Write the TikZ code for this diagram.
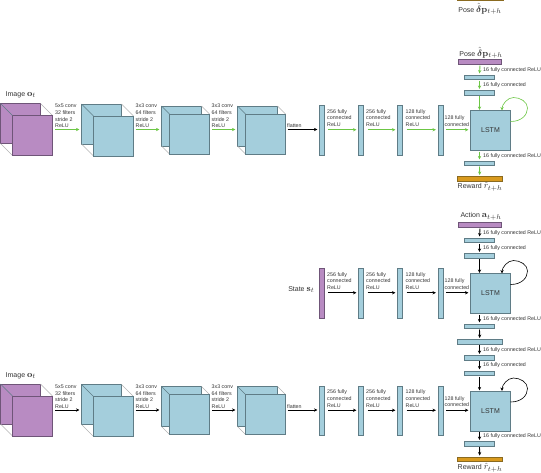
\documentclass[tikz,border=0pt]{standalone}
\usepackage{amsmath}
\usepackage[no-math]{fontspec}
\setmainfont{Liberation Sans}
\usetikzlibrary{arrows.meta}
\definecolor{pur}{HTML}{B88BC2}
\definecolor{blu}{HTML}{A4CEDC}
\definecolor{org}{HTML}{D99A1E}
\definecolor{grn}{HTML}{6CC644}
\definecolor{edg}{HTML}{5F7C86}
\definecolor{edp}{HTML}{6F5578}
\definecolor{edo}{HTML}{8A6A20}
\definecolor{txt}{HTML}{333333}
\newcommand\mth[1]{{\fontsize{9.5}{10}\selectfont$#1$}}
\tikzset{
  layer/.style={draw=edg,fill=blu,line width=0.7pt,inner sep=0pt,outer sep=0pt},
  inlayer/.style={draw=edp,fill=pur,line width=0.7pt,inner sep=0pt,outer sep=0pt},
  outlayer/.style={draw=edo,fill=org,line width=0.7pt,inner sep=0pt,outer sep=0pt},
  small/.style={font=\fontsize{5.3}{6.6}\selectfont,text=txt,inner sep=0pt,anchor=west,align=left},
  big/.style={font=\fontsize{7}{9}\selectfont,text=txt,inner sep=0pt},
  arr/.style={-{Stealth[length=3.5pt,width=3.2pt]},line width=0.9pt},
  harr/.style={arr,shorten >=2pt},
  varr/.style={arr,shorten >=0.5pt},
  edgeline/.style={draw=black!30,line width=0.4pt},
  depth/.style={draw=edg,line width=0.4pt},
}
% name, x0, y0, x1, y1, style
\newcommand\bx[6]{\node[#6,minimum width={(#4-(#2))*1pt},minimum height={(#5-(#3))*1pt}] (#1) at ({(#2+#4)/2},{(#3+#5)/2}) {};}
% prefix, back x0,y0, front x0,y0, style
\newcommand\cube[6]{%
  \bx{#1b}{#2}{#3}{#2+40}{#3+40}{#6}
  \draw[edgeline] (#1b.north east) -- ++({#4-#2},{#5-#3});
  \draw[edgeline] (#1b.south west) -- ++({#4-#2},{#5-#3});
  \bx{#1f}{#4}{#5}{#4+40}{#5+40}{#6}
  \draw[depth] (#1b.north west) -- (#1f.north west);
}
% the convolutional branch: prefix, arrow colour
\newcommand\convs[2]{%
  \cube{#1c1}{0.5}{103.5}{12.5}{115.5}{inlayer}
  \cube{#1c2}{81.5}{104}{93.5}{116}{layer}
  \cube{#1c3}{161.5}{106}{169.5}{114}{layer}
  \cube{#1c4}{237.5}{106}{245.5}{114}{layer}
  \node[big,anchor=west] (#1img) at (5.5,95) {Image \mth{\mathbf{o}_t}};
  \node[small] (#1t1) at (55,116) {5x5 conv\\32 filters\\stride 2\\ReLU};
  \node[small] (#1t2) at (135.5,116) {3x3 conv\\64 filters\\stride 2\\ReLU};
  \node[small] (#1t3) at (211.5,116) {3x3 conv\\64 filters\\stride 2\\ReLU};
  \node[small] (#1t4) at (287,126) {flatten};
  \coordinate (#1s1) at ([yshift=-13.5pt]#1t1.west);
  \coordinate (#1s2) at ([yshift=-13.5pt]#1t2.west);
  \coordinate (#1s3) at ([xshift=0.5pt,yshift=-13.5pt]#1t3.west);
  \draw[harr,#2] (#1s1) -- (#1c2b.west |- #1s1);
  \draw[harr,#2] (#1s2) -- (#1c3b.west |- #1s2);
  \draw[harr,#2] (#1s3) -- (#1c4b.west |- #1s3);
}
% the fully connected branch: prefix, first-bar style, arrow colour
\newcommand\fcs[3]{%
  \bx{#1b1}{319.5}{105.5}{324}{155}{#2}
  \bx{#1b2}{358.5}{105.5}{363.5}{155}{layer}
  \bx{#1b3}{397.5}{105.5}{402.5}{155}{layer}
  \bx{#1b4}{438}{105.5}{443}{155}{layer}
  \bx{#1L}{470.5}{110.5}{510.5}{150.5}{layer}
  \node[font=\fontsize{7}{8}\selectfont,text=txt] at (#1L) {LSTM};
  \node[small] (#1u1) at (327,118) {256 fully\\connected\\ReLU};
  \node[small] (#1u2) at (366,118) {256 fully\\connected\\ReLU};
  \node[small] (#1u3) at (405.5,118) {128 fully\\connected\\ReLU};
  \node[small] (#1u4) at (444.5,121) {128 fully\\connected};
  \coordinate (#1a1) at ([xshift=4pt,yshift=0.5pt]#1b1.east);
  \coordinate (#1a2) at ([xshift=4pt,yshift=0.5pt]#1b2.east);
  \coordinate (#1a3) at ([xshift=4pt,yshift=0.5pt]#1b3.east);
  \coordinate (#1a4) at ([xshift=3pt,yshift=0.5pt]#1b4.east);
  \draw[harr,#3] (#1a1) -- (#1b2.west |- #1a1);
  \draw[harr,#3] (#1a2) -- (#1b3.west |- #1a2);
  \draw[harr,#3] (#1a3) -- (#1b4.west |- #1a3);
  \draw[harr,#3] (#1a4) -- (#1L.west |- #1a4);
  \draw[arr,#3,line width=0.6pt] ([yshift=9pt]#1L.east) .. controls +(11,0) and +(0,7) .. ++(17,-13.5) .. controls +(0,-6) and +(7,0) .. ++(-14,-10.5) .. controls +(-6,0) and +(0,-6) .. ([xshift=11.5pt]#1L.north);
}
% input bar + two fc bars above the LSTM: prefix, input text, arrow colour
\newcommand\head[3]{%
  \bx{#1p}{458.5}{59.5}{501.5}{64.5}{inlayer}
  \node[big] (#1pl) at (481,53) {#2};
  \bx{#1h1}{464.5}{75}{494.5}{79.5}{layer}
  \bx{#1h2}{464.5}{90.5}{494.5}{95}{layer}
  \node[small] (#1ht1) at (483,70) {16 fully connected ReLU};
  \node[small] (#1ht2) at (483,85) {16 fully connected};
  \draw[varr,#3] ([yshift=-1pt]#1p.south) -- ([yshift=1pt]#1h1.north);
  \draw[varr,#3] ([yshift=-1pt]#1h1.south) -- ([yshift=1pt]#1h2.north);
  \draw[varr,#3] ([yshift=-1pt]#1h2.south) -- (#1L.north -| #1h2.south);
}
\begin{document}
\begin{tikzpicture}[x=1pt,y=-1pt]
\useasboundingbox (0,0) rectangle (541,472);
% ---- top panel
\bx{topr}{457.5}{-3}{503}{0.8}{outlayer}
\node[big] (topl) at (480,9) {Pose \mth{\hat{\boldsymbol{\delta}}\mathbf{p}_{t+h}}};
\convs{A}{grn}
\fcs{A}{layer}{grn}
\coordinate (As4) at ([xshift=0.5pt,yshift=-3.5pt]At4.west);
\draw[harr,black] (As4) -- (Ab1.west |- As4);
\head{A}{Pose \mth{\hat{\boldsymbol{\delta}}\mathbf{p}_{t+h}}}{grn}
\node[small] (Aot) at (483,156) {16 fully connected ReLU};
\bx{Aq1}{464.5}{161}{494.5}{165.5}{layer}
\bx{Aq2}{457}{176.5}{502.5}{181}{outlayer}
\draw[varr,grn] ([yshift=-1pt]AL.south -| Aq1.north) -- ([yshift=1pt]Aq1.north);
\draw[varr,grn] ([yshift=-1pt]Aq1.south) -- ([yshift=1pt]Aq2.north);
\node[big] (Arl) at (480,187) {Reward \mth{\hat{r}_{t+h}}};
% ---- middle: state branch
\begin{scope}[yshift=-163pt]
\fcs{B}{inlayer}{black}
\node[big,anchor=east] (Bst) at (314.5,126.5) {State \mth{\mathbf{s}_t}};
\head{B}{Action \mth{\mathbf{a}_{t+h}}}{black}
\node[small] (Bot) at (483,156) {16 fully connected ReLU};
\bx{Bq1}{464.5}{161}{494.5}{165.5}{layer}
\bx{Bq2}{457}{176.5}{502.5}{181}{layer}
\draw[varr,black] ([yshift=-1pt]BL.south -| Bq1.north) -- ([yshift=1pt]Bq1.north);
\draw[varr,black] ([yshift=-1pt]Bq1.south) -- ([yshift=1pt]Bq2.north);
\end{scope}
% ---- bottom panel
\begin{scope}[yshift=-280.5pt]
\convs{C}{black}
\fcs{C}{layer}{black}
\coordinate (Cs4) at ([xshift=0.5pt,yshift=-3.5pt]Ct4.west);
\draw[harr,black] (Cs4) -- (Cb1.west |- Cs4);
\bx{Ch1}{464.5}{75}{494.5}{79.5}{layer}
\bx{Ch2}{464.5}{90.5}{494.5}{95}{layer}
\node[small] (Cht1) at (483,70) {16 fully connected ReLU};
\node[small] (Cht2) at (483,85) {16 fully connected};
\draw[varr,black] ([yshift=-1pt]Bq2.south -| Ch1.north) -- ([yshift=1pt]Ch1.north);
\draw[varr,black] ([yshift=-1pt]Ch1.south) -- ([yshift=1pt]Ch2.north);
\draw[varr,black] ([yshift=-1pt]Ch2.south) -- (CL.north -| Ch2.south);
\node[small] (Cot) at (483,156) {16 fully connected ReLU};
\bx{Cq1}{464.5}{161}{494.5}{165.5}{layer}
\bx{Cq2}{457}{176.5}{502.5}{181}{outlayer}
\draw[varr,black] ([yshift=-1pt]CL.south -| Cq1.north) -- ([yshift=1pt]Cq1.north);
\draw[varr,black] ([yshift=-1pt]Cq1.south) -- ([yshift=1pt]Cq2.north);
\node[big] (Crl) at (480,187) {Reward \mth{\hat{r}_{t+h}}};
\end{scope}
\end{tikzpicture}
\end{document}
